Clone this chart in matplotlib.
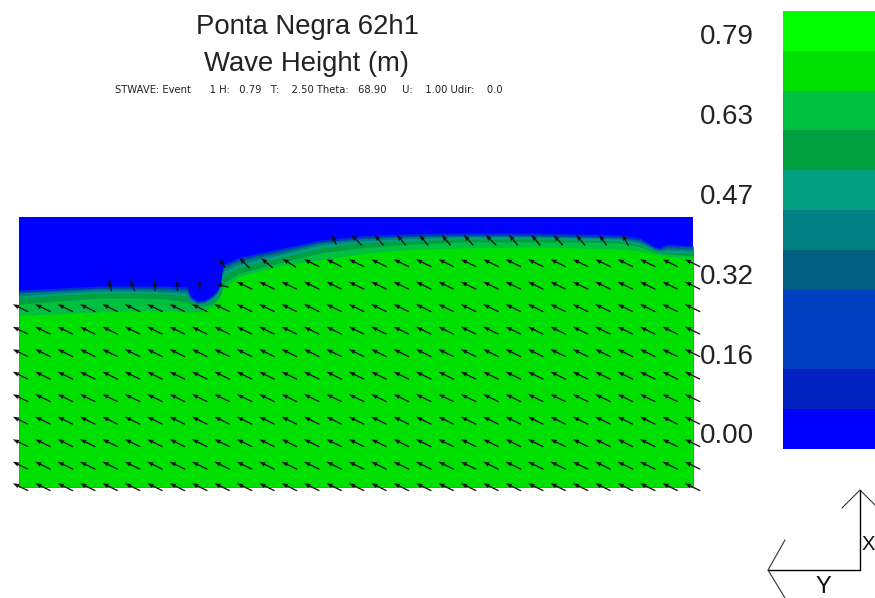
# Ponta Negra STWAVE wave height map, drawn on a single pixel-scaled axes
import numpy as np
import matplotlib
matplotlib.use('Agg')
import matplotlib.pyplot as plt

plt.rcParams['font.family'] = ['Liberation Sans', 'DejaVu Sans']

# band edges along the map, top of each colour band
station_x = [19, 60, 100, 140, 165, 187, 190, 197, 205, 213, 218, 221, 222, 224,
             240, 283, 320, 360, 400, 460, 520, 580, 620, 640, 655, 660, 667, 693]
edge_0040c0 = [290, 288, 286, 286, 286, 287, 295, 301, 300, 295, 289, 280, 270, 264,
               257, 248, 240, 236, 234, 233, 233, 234, 235, 238, 247, 248, 244, 246]
edge_006080 = [292, 290, 288, 288, 288, 289, 297, 302, 301, 296, 290, 282, 272, 266,
               259, 250, 242, 238, 236, 235, 235, 236, 237, 240, 248, 249, 246, 247]
edge_008080 = [293, 291, 289, 289, 290, 291, 298, 303, 302, 297, 291, 283, 274, 268,
               261, 252, 243, 239, 237, 236, 236, 237, 238, 241, 249, 250, 248, 249]
edge_00a080 = [296, 293, 291, 291, 292, 293, 300, 304, 303, 298, 293, 285, 277, 271,
               264, 254, 245, 241, 239, 237, 237, 238, 239, 243, 250, 251, 250, 251]
edge_00a040 = [298, 295, 293, 293, 294, 296, 302, 305, 304, 300, 295, 288, 281, 275,
               267, 257, 248, 243, 241, 239, 239, 240, 241, 245, 251, 252, 252, 253]
edge_00c040 = [304, 301, 298, 298, 299, 302, 304, 306, 306, 303, 298, 293, 288, 283,
               273, 262, 253, 248, 245, 242, 242, 242, 243, 247, 252, 253, 254, 256]
edge_00e000 = [315, 314, 312, 311, 311, 312, 312, 312, 310, 307, 300, 295, 290, 287,
               276, 265, 260, 254, 250, 248, 247, 248, 249, 251, 254, 255, 256, 258]

# arrow grid: direction in degrees, lower rows are all open water
col_count = 31
row_y = [240, 263, 285.5, 308, 330.5, 353, 375.5, 398, 420.5, 443, 465.5, 487]
row_first_col = [14, 9, 4, 0, 0, 0, 0, 0, 0, 0, 0, 0]
open_water_angle = 154
open_water_length = 17
top_row_angles = [115, 135, 130, 130, 130, 130, 132, 135, 130, 130, 132, 130, 125, 120]
top_row_lengths = [11, 15, 14, 14, 14, 14, 14, 15, 14, 14, 14, 14, 13, 13]
second_row_angles = [122, 135, 140, 148]
second_row_lengths = [11, 15, 15, 16]
third_row_angles = [105, 110, 90, 90, 90, 165]
third_row_lengths = [12, 12, 11, 11, 11, 13]

# legend
legend_colors = ['#00ff00', '#00e000', '#00c040', '#00a040', '#00a080', '#008080',
                 '#006080', '#0040c0', '#0040c0', '#0020c0', '#0000ff']
legend_labels = ['0.79', '0.63', '0.47', '0.32', '0.16', '0.00']
legend_label_y = [37, 117, 197, 277, 357, 436]

fig = plt.figure(figsize=(8.75, 5.98), dpi=100)
ax = fig.add_axes([0, 0, 1, 1])
ax.set_xlim(0, 875)
ax.set_ylim(598, 0)
ax.axis('off')

# map field
map_bottom = 487
ax.fill_between([19, 693], 217, map_bottom, color='#0000ff', lw=0)
edges = [edge_0040c0, edge_006080, edge_008080, edge_00a080, edge_00a040, edge_00c040, edge_00e000]
band_colors = ['#0030d0', '#006080', '#008080', '#00a080', '#00a040', '#00c040', '#00e000']
for edge, color in zip(edges, band_colors):
    ax.fill_between(station_x, edge, map_bottom, color=color, lw=0)

# arrows
xs, ys, us, vs = [], [], [], []
for r, y in enumerate(row_y):
    for c in range(row_first_col[r], col_count):
        k = c - row_first_col[r]
        angle, length = open_water_angle, open_water_length
        if r == 0 and k < len(top_row_angles):
            angle, length = top_row_angles[k], top_row_lengths[k]
        elif r == 1 and k < len(second_row_angles):
            angle, length = second_row_angles[k], second_row_lengths[k]
        elif r == 2 and k < len(third_row_angles):
            angle, length = third_row_angles[k], third_row_lengths[k]
        if r == 0 and k >= len(top_row_angles):
            continue
        xs.append(20.5 + 22.4 * c)
        ys.append(y)
        us.append(length * np.cos(np.radians(angle)))
        vs.append(-length * np.sin(np.radians(angle)))

ax.quiver(xs, ys, us, vs, angles='xy', scale_units='xy', scale=1, pivot='mid',
          units='dots', width=1.3, headwidth=3.6, headlength=5, headaxislength=4.5,
          color='#111111', clip_on=False, zorder=3)

# titles
ax.text(307, 27, 'Ponta Negra 62h1', fontsize=19.8, ha='center', va='center', color='#222222')
ax.text(307, 64, 'Wave Height (m)', fontsize=19.8, ha='center', va='center', color='#222222')
ax.text(308.5, 90, 'STWAVE: Event      1 H:   0.79   T:    2.50 Theta:   68.90     U:    1.00 Udir:    0.0',
        fontsize=7.2, family='DejaVu Sans', ha='center', va='center', color='#222222')

# colour legend
n_bands = len(legend_colors)
band_top = np.linspace(11, 449, n_bands + 1)[:-1]
ax.bar([829] * n_bands, [438 / n_bands] * n_bands, bottom=band_top, width=92,
       color=legend_colors, lw=0, align='center')
for label, y in zip(legend_labels, legend_label_y):
    ax.text(700, y, label, fontsize=20, ha='left', va='center', color='#222222', zorder=4)

# axis triad
ax.plot([860, 860, 768], [490, 570, 570], color='black', lw=1)
ax.plot([842, 860, 875], [508, 490, 505], color='#333333', lw=0.8)
ax.plot([785, 768, 785], [540, 570, 598], color='#333333', lw=0.8)
ax.text(861.5, 545, 'X', fontsize=14.5, ha='left', va='center', color='#111111')
ax.text(823, 587, 'Y', fontsize=17, ha='center', va='center', color='#111111')

fig.savefig('out.png', dpi=100)
plt.close(fig)
